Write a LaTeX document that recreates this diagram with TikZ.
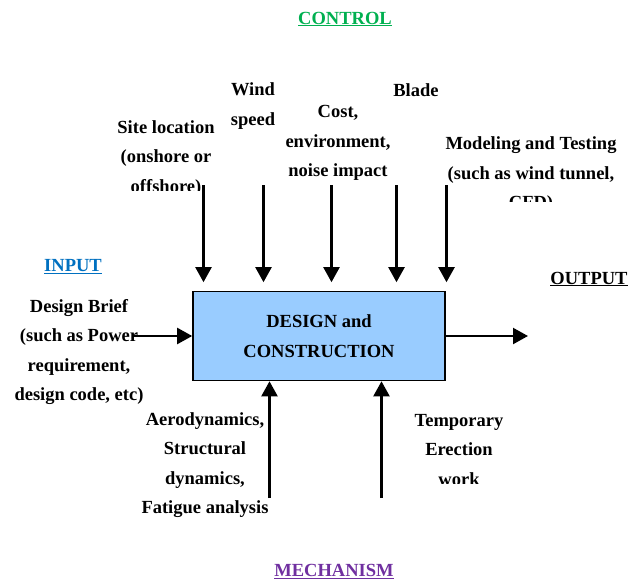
\documentclass[tikz,border=0pt]{standalone}
\usepackage{fontspec}
\setmainfont{Liberation Serif}
\usepackage{xcolor}
\definecolor{idefGreen}{HTML}{00B050}
\definecolor{idefBlue}{HTML}{0070C0}
\definecolor{idefPurple}{HTML}{7030A0}
\definecolor{idefBox}{HTML}{99CCFF}
\usepackage{tikz}
\usetikzlibrary{
  arrows.meta,
  positioning,
  calc
}
\tikzset{
  actbox/.style={
    rectangle,draw=black,line width=1.6pt,fill=idefBox,
    minimum width=252pt,minimum height=89pt,inner sep=0pt,
    align=center,font=\fontsize{18.5}{30}\selectfont\bfseries
  },
  lbl/.style={
    align=center,inner sep=0pt,
    font=\fontsize{18.5}{29.5}\selectfont\bfseries
  },
  headlbl/.style={
    inner sep=0pt,text=#1,
    font=\fontsize{18.5}{22}\selectfont\bfseries
  },
  arr/.style={-{Triangle[length=15pt,width=16pt]},line width=2.2pt},
  toparr/.style={arr,shorten >=8.5pt},
}

\begin{document}
\begin{tikzpicture}[x=1pt,y=-1pt]
\useasboundingbox (0,0) rectangle (628,580);

%% ── Activity box ──────────────────────────────────────────
\node[actbox] (act) at (319,336) {DESIGN and\\CONSTRUCTION};

%% ── Headings ──────────────────────────────────────────────
\node[headlbl=idefGreen]  (ctrl) at (345,19)    {\underline{CONTROL}};
\node[headlbl=idefBlue]   (inp)  at (73,266.5)  {\underline{INPUT}};
\node[headlbl=black]      (outp) at (589,279)   {\underline{OUTPUT}};
\node[headlbl=idefPurple] (mech) at (334,571.5) {\underline{MECHANISM}};

%% ── Control labels ────────────────────────────────────────
\begin{scope}
  \clip (90,100) rectangle (240,190);
  \node[lbl] (site) at (166,158.5) {Site location\\(onshore or\\offshore)};
\end{scope}
\node[lbl] (wind) at (253,106) {Wind\\speed};
\node[lbl] (cost) at (338,143) {Cost,\\environment,\\noise impact};
\node[lbl] (blade) at (416,90) {Blade};
\begin{scope}
  \clip (430,120) rectangle (628,201);
  \node[lbl] (model) at (531,175) {Modeling and Testing\\(such as wind tunnel,\\CFD)};
\end{scope}

%% ── Input / mechanism labels ──────────────────────────────
\node[lbl] (brief) at (79,352) {Design Brief\\(such as Power\\requirement,\\design code, etc)};
\node[lbl] (aero) at (205,465) {Aerodynamics,\\Structural\\dynamics,\\Fatigue analysis};
\begin{scope}
  \clip (390,400) rectangle (540,483);
  \node[lbl] (temp) at (459,450) {Temporary\\Erection\\work};
\end{scope}

%% ── Free ends ─────────────────────────────────────────────
\coordinate (c1) at (203.5,185);
\coordinate (c2) at (263.5,185);
\coordinate (c3) at (331.5,185);
\coordinate (c4) at (396.5,185);
\coordinate (c5) at (446.5,185);
\coordinate (i1) at (133,336);
\coordinate (o1) at (528,336);
\coordinate (m1) at (269.5,498);
\coordinate (m2) at (381.5,498);

%% ── Arrows ────────────────────────────────────────────────
\foreach \c in {c1,c2,c3,c4,c5}
  \draw[toparr] (\c) -- (\c |- act.north);
\draw[arr] (i1) -- (act.west);
\draw[arr] (act.east) -- (o1);
\draw[arr] (m1) -- (m1 |- act.south);
\draw[arr] (m2) -- (m2 |- act.south);

\end{tikzpicture}
\end{document}
